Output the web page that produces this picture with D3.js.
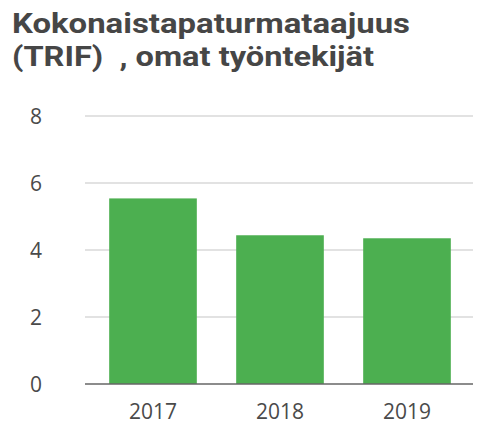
<!DOCTYPE html>
<html>
<head>
<meta charset="utf-8">
<script src="https://cdn.jsdelivr.net/npm/d3@7"></script>
<style>
  body { margin: 0; background: #fff; }
  svg { display: block; }
</style>
</head>
<body>
<svg id="chart"></svg>
<script>
const titleLines = ["Kokonaistapaturmataajuus", "(TRIF)  , omat työntekijät"]
const titleWidths = [398, 362]
const years = ["2017", "2018", "2019"]
const trif = [5.54, 4.44, 4.35]
const yTicks = [0, 2, 4, 6, 8]

const width = 495, height = 436
const svg = d3.select("#chart")
    .attr("width", width)
    .attr("height", height)

//Title, one text with a tspan per line, stretched to the reference width
svg.append("text")
    .attr("font-family", "Roboto")
    .attr("font-weight", 700)
    .attr("font-size", 28)
    .attr("fill", "#464646")
    .style("white-space", "pre")
    .selectAll("tspan")
    .data(titleLines)
    .join("tspan")
    .attr("x", 12)
    .attr("y", (d, i) => 33 + i * 33)
    .attr("textLength", (d, i) => titleWidths[i])
    .attr("lengthAdjust", "spacingAndGlyphs")
    .text(d => d)

const y = d3.scaleLinear().domain([0, 8]).range([384, 116])
const x = d3.scaleBand().domain(years).range([89.5, 470.5]).paddingInner(0.31).paddingOuter(0.155)

//Gridlines
svg.append("g")
    .selectAll("line")
    .data(yTicks.filter(d => d > 0))
    .join("line")
    .attr("x1", 85)
    .attr("x2", 473)
    .attr("y1", d => y(d))
    .attr("y2", d => y(d))
    .attr("stroke", "#d9d9d9")
    .attr("stroke-width", 1.5)

//Bars
svg.append("g")
    .selectAll("rect")
    .data(trif)
    .join("rect")
    .attr("x", (d, i) => x(years[i]))
    .attr("width", x.bandwidth())
    .attr("y", d => y(d))
    .attr("height", d => y(0) - y(d))
    .attr("fill", "#4caf50")

//Baseline
svg.append("line")
    .attr("x1", 85)
    .attr("x2", 473)
    .attr("y1", y(0))
    .attr("y2", y(0))
    .attr("stroke", "#666")
    .attr("stroke-width", 1.5)

//Y tick labels
svg.append("g")
    .selectAll("text")
    .data(yTicks)
    .join("text")
    .attr("x", 36)
    .attr("y", d => y(d))
    .attr("dy", "0.36em")
    .attr("text-anchor", "middle")
    .attr("font-family", "Open Sans")
    .attr("font-size", 21)
    .attr("fill", "#4a4a4a")
    .text(d => d)

//X labels
svg.append("g")
    .selectAll("text")
    .data(years)
    .join("text")
    .attr("x", d => x(d) + x.bandwidth() / 2)
    .attr("y", 419)
    .attr("text-anchor", "middle")
    .attr("font-family", "Open Sans")
    .attr("font-size", 21)
    .attr("fill", "#4a4a4a")
    .text(d => d)
</script>
</body>
</html>
